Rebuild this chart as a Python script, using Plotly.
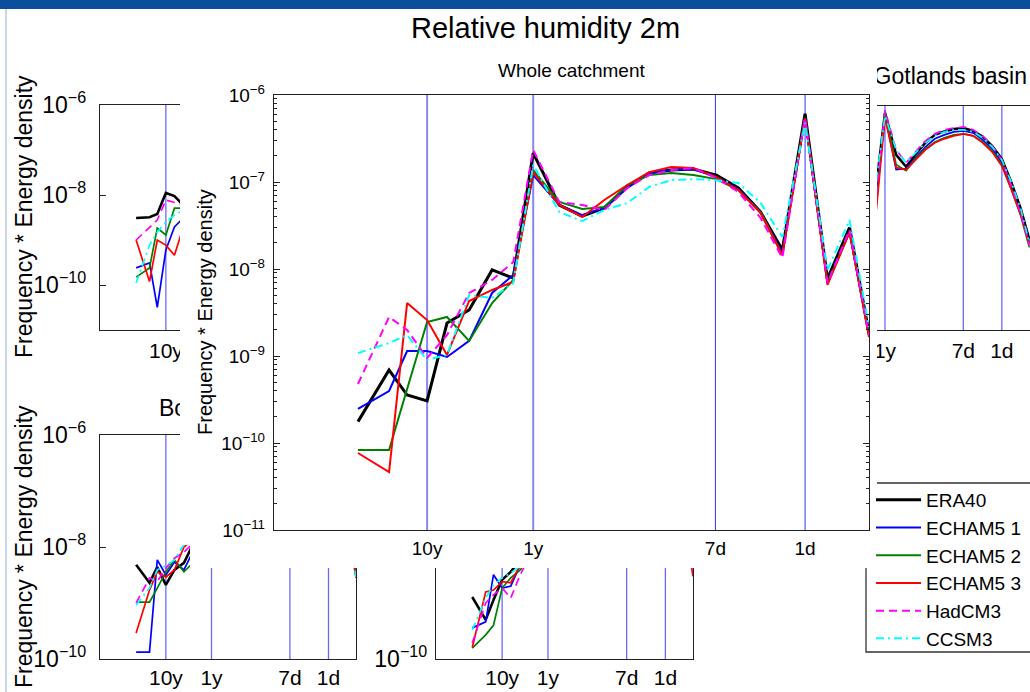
import math
import plotly.graph_objects as go

W, H = 1030, 692
FONT = "Liberation Sans, Arial, Helvetica, sans-serif"

# ---------------------------------------------------------------- data
# frequency bins (cycles per year)
freq = [0.0223, 0.0438, 0.0648, 0.1, 0.154, 0.249, 0.41, 0.648, 1.0, 1.76, 2.9, 4.68,
        7.71, 12.4, 20.0, 32.3, 53.3, 85.9, 139.0, 223.0, 365.0, 594.0, 958.0, 1461.0]

tick_freq = [0.1, 1.0, 365.25 / 7.0, 365.25]
tick_text = ["10y", "1y", "7d", "1d"]

series_names = ["ERA40", "ECHAM5 1", "ECHAM5 2", "ECHAM5 3", "HadCM3", "CCSM3"]

# Whole catchment (main panel)
era40_whole = [1.76e-10, 6.9e-10, 3.56e-10, 3.04e-10, 2.39e-9, 3.38e-9, 9.75e-9, 7.88e-9,
               2.15e-7, 5.44e-8, 4.06e-8, 5.03e-8, 8.77e-8, 1.27e-7, 1.37e-7, 1.41e-7,
               1.20e-7, 8.53e-8, 4.52e-8, 1.65e-8, 6.1e-7, 7.7e-9, 3.0e-8, 1.84e-9]
echam1_whole = [2.46e-10, 3.96e-10, 1.14e-9, 1.14e-9, 9.75e-10, 1.49e-9, 5.3e-9, 8.53e-9,
                1.2e-7, 5.44e-8, 4.17e-8, 5.03e-8, 8.53e-8, 1.27e-7, 1.37e-7, 1.41e-7,
                1.14e-7, 8.31e-8, 4.52e-8, 1.53e-8, 5.44e-7, 6.9e-9, 2.66e-8, 1.74e-9]
echam2_whole = [8.31e-11, 8.31e-11, 4.18e-10, 2.46e-9, 2.81e-9, 1.49e-9, 4.06e-9, 7.48e-9,
                1.37e-7, 5.89e-8, 4.9e-8, 5.16e-8, 9.24e-8, 1.2e-7, 1.27e-7, 1.2e-7,
                1.08e-7, 8.09e-8, 4.52e-8, 1.45e-8, 5.44e-7, 6.9e-9, 2.66e-8, 1.74e-9]
echam3_whole = [7.67e-11, 4.64e-11, 4.06e-9, 2.59e-9, 1.03e-9, 4.29e-9, 5.74e-9, 7.1e-9,
                1.3e-7, 5.44e-8, 3.96e-8, 6.21e-8, 9.24e-8, 1.3e-7, 1.49e-7, 1.45e-7,
                1.14e-7, 8.09e-8, 4.4e-8, 1.45e-8, 5.44e-7, 6.55e-9, 2.66e-8, 1.65e-9]
hadcm3_whole = [4.77e-10, 2.81e-9, 1.99e-9, 9.49e-10, 1.74e-9, 5.3e-9, 7.48e-9, 1.2e-8,
                2.33e-7, 5.89e-8, 5.44e-8, 4.77e-8, 8.53e-8, 1.2e-7, 1.37e-7, 1.45e-7,
                1.11e-7, 7.67e-8, 3.86e-8, 1.34e-8, 5.44e-7, 6.9e-9, 2.81e-8, 1.74e-9]
ccsm3_whole = [1.08e-9, 1.41e-9, 1.74e-9, 9.0e-10, 1.03e-9, 5.03e-9, 4.64e-9, 6.9e-9,
               1.57e-7, 4.52e-8, 3.56e-8, 4.77e-8, 5.74e-8, 8.77e-8, 1.05e-7, 1.08e-7,
               1.05e-7, 9.75e-8, 5.74e-8, 2.33e-8, 4.77e-7, 9.75e-9, 3.66e-8, 2.15e-9]

# top-left panel (only the low-frequency part is visible)
freq_tl = freq[0:6]
era40_tl = [3.08e-9, 3.2e-9, 3.78e-9, 1.11e-8, 9.5e-9, 5.7e-9]
echam1_tl = [2.4e-10, 3.1e-10, 3.2e-11, 6.0e-10, 1.95e-9, 3.2e-9]
echam2_tl = [1.5e-10, 2.4e-10, 1.85e-9, 1.29e-9, 5.1e-9, 5.1e-9]
echam3_tl = [1.0e-9, 1.19e-10, 1.0e-9, 7.7e-10, 4.6e-10, 2.15e-9]
hadcm3_tl = [1.0e-9, 1.85e-9, 2.78e-9, 7.7e-9, 6.9e-9, 6.0e-9]
ccsm3_tl = [1.11e-10, 7.7e-10, 1.5e-9, 2.5e-9, 3.6e-9, 4.6e-9]

# Gotlands basin (top-right panel)
freq_got = freq[7:]
era40_got = [1.75e-8, 7.0e-7, 8.1e-8, 4.4e-8, 8.3e-8, 1.51e-7, 2.27e-7, 2.71e-7, 3.08e-7,
             3.24e-7, 2.78e-7, 2.05e-7, 1.29e-7, 6.6e-8, 1.95e-8, 4.9e-9, 1.05e-9]
echam1_got = [8.1e-9, 6.3e-7, 3.8e-8, 4.0e-8, 7.0e-8, 1.23e-7, 1.85e-7, 2.27e-7, 2.64e-7,
              2.78e-7, 2.51e-7, 1.76e-7, 1.11e-7, 5.4e-8, 1.5e-8, 4.0e-9, 9.0e-10]
echam2_got = [6.3e-9, 7.4e-7, 4.9e-8, 3.6e-8, 6.6e-8, 1.11e-7, 1.58e-7, 1.95e-7, 2.27e-7,
              2.39e-7, 2.15e-7, 1.58e-7, 1.0e-7, 4.9e-8, 1.36e-8, 3.4e-9, 7.0e-10]
echam3_got = [4.9e-9, 5.4e-7, 4.2e-8, 3.8e-8, 6.3e-8, 1.05e-7, 1.51e-7, 1.85e-7, 2.15e-7,
              2.39e-7, 2.15e-7, 1.51e-7, 9.5e-8, 4.6e-8, 1.36e-8, 3.6e-9, 8.1e-10]
hadcm3_got = [1.05e-8, 8.1e-7, 1.05e-7, 5.4e-8, 9.5e-8, 1.67e-7, 2.39e-7, 2.93e-7, 3.24e-7,
              3.41e-7, 2.93e-7, 2.15e-7, 1.29e-7, 6.3e-8, 1.67e-8, 3.8e-9, 7.7e-10]
ccsm3_got = [2.27e-8, 6.0e-7, 1.05e-7, 5.4e-8, 9.0e-8, 1.51e-7, 2.15e-7, 2.64e-7, 2.93e-7,
             2.93e-7, 2.64e-7, 1.95e-7, 1.23e-7, 6.3e-8, 1.95e-8, 4.9e-9, 9.0e-10]

# bottom-left panel: visible low-frequency part and the last two bins
era40_bl = [4.8e-9, 2.3e-9, 4.4e-9, 2.1e-9, 3.9e-9, 5.2e-9, 1.2e-8]
echam1_bl = [1.33e-10, 1.33e-10, 5.9e-9, 3.16e-9, 5.4e-9, 3.9e-9, 9.0e-9]
echam2_bl = [1.04e-9, 1.04e-9, 1.85e-9, 3.6e-9, 5.9e-9, 3.6e-9, 5.4e-9]
echam3_bl = [2.9e-10, 1.7e-9, 3.6e-9, 2.9e-9, 3.9e-9, 1.0e-8, 1.4e-8]
hadcm3_bl = [1.0e-9, 2.8e-9, 2.4e-9, 4.2e-9, 6.3e-9, 8.1e-9, 1.2e-8]
ccsm3_bl = [9.2e-10, 1.85e-9, 3.9e-9, 4.6e-9, 5.9e-9, 1.1e-8, 1.3e-8]
era40_bl_tail = [3.0e-8, 3.4e-9]
echam1_bl_tail = [2.7e-8, 3.6e-9]
echam2_bl_tail = [2.7e-8, 3.6e-9]
echam3_bl_tail = [2.6e-8, 2.8e-9]
hadcm3_bl_tail = [2.8e-8, 3.0e-9]
ccsm3_bl_tail = [3.4e-8, 2.9e-9]

# bottom-middle panel
era40_bm = [1.28e-9, 5.0e-10, 1.13e-9, 2.6e-9, 3.6e-9, 5.9e-9, 8.9e-9]
echam1_bm = [3.6e-10, 4.6e-10, 3.2e-9, 1.85e-9, 2.0e-9, 4.8e-9, 8.1e-9]
echam2_bm = [1.57e-10, 2.7e-10, 4.0e-10, 1.85e-9, 2.8e-9, 3.9e-9, 7.2e-9]
echam3_bm = [1.6e-10, 1.57e-9, 1.7e-9, 2.4e-9, 2.3e-9, 4.8e-9, 8.1e-9]
hadcm3_bm = [1.93e-10, 1.0e-9, 1.4e-9, 1.85e-9, 1.23e-9, 3.2e-9, 7.2e-9]
ccsm3_bm = [3.3e-10, 1.23e-9, 2.1e-9, 2.8e-9, 3.4e-9, 4.6e-9, 8.1e-9]
era40_bm_tail = [3.0e-8, 4.2e-9]
echam1_bm_tail = [3.0e-8, 4.2e-9]
echam2_bm_tail = [3.0e-8, 4.2e-9]
echam3_bm_tail = [2.6e-8, 3.0e-9]
hadcm3_bm_tail = [2.8e-8, 3.3e-9]
ccsm3_bm_tail = [3.0e-8, 4.2e-9]

# ---------------------------------------------------------------- styles
styles = {
    "ERA40": dict(color="#000000", dash="solid", w=3.0),
    "ECHAM5 1": dict(color="#0000ff", dash="solid", w=2.0),
    "ECHAM5 2": dict(color="#008000", dash="solid", w=2.0),
    "ECHAM5 3": dict(color="#ff0000", dash="solid", w=2.0),
    "HadCM3": dict(color="#ff00ff", dash="8px,5px", w=2.0),
    "CCSM3": dict(color="#00ffff", dash="8px,4px,2px,4px", w=2.0),
}


def gapped(low, tail):
    n_mid = len(freq) - len(low) - len(tail)
    return low + [None] * n_mid + tail


def dom_x(a, b):
    return [a / W, b / W]


def dom_y(top, bottom):
    return [1 - bottom / H, 1 - top / H]


X_RANGE = [-2.443, 3.165]
X_RANGE_GOT = [-0.175, 3.18]
LINE = "#222222"
REF_LIGHT = "rgb(135,135,250)"
REF_DARK = "rgb(50,50,255)"


def sup(v):
    e = int(round(math.log10(v)))
    return "10<sup>\u2212%d</sup>" % (-e)


def ax_id(n, letter):
    return letter if n == 1 else "%s%d" % (letter, n)


fig = go.Figure()


def add_ref_lines(n, yr, groups):
    # vertical period markers (10y, 1y, 7d, 1d) spanning the panel's full height
    for idxs, color, width in groups:
        xs, ys = [], []
        for i in idxs:
            xs += [tick_freq[i], tick_freq[i], None]
            ys += [10.0 ** yr[0], 10.0 ** yr[1], None]
        fig.add_trace(go.Scatter(x=xs, y=ys, mode="lines",
                                 line=dict(color=color, width=width),
                                 xaxis=ax_id(n, "x"), yaxis=ax_id(n, "y"),
                                 showlegend=False, hoverinfo="skip"))


def add_panel(n, xs, ydata, scale=1.0, legend=False):
    for name, ys in zip(series_names, ydata):
        st = styles[name]
        fig.add_trace(go.Scatter(
            x=xs, y=ys, mode="lines", name=name,
            line=dict(color=st["color"], dash=st["dash"], width=st["w"] * scale),
            xaxis=ax_id(n, "x"), yaxis=ax_id(n, "y"),
            showlegend=legend, hoverinfo="skip"))


def add_label_holder(n, text, xpos, position, size):
    # a text placed on an invisible helper subplot, so the cover sheet can hide part of it
    fig.add_trace(go.Scatter(
        x=[xpos], y=[0.5], mode="text", text=[text], textposition=position,
        cliponaxis=False, textfont=dict(size=size, family=FONT, color="black"),
        xaxis=ax_id(n, "x"), yaxis=ax_id(n, "y"), showlegend=False, hoverinfo="skip"))


SMALL_REF = [([0, 1, 2, 3], "rgb(105,105,255)", 1.3)]

# 1 top-left
add_ref_lines(1, [-11, -6], SMALL_REF)
add_panel(1, freq_tl, [era40_tl, echam1_tl, echam2_tl, echam3_tl, hadcm3_tl, ccsm3_tl], 0.85)
# 2 Gotlands basin
add_ref_lines(2, [-11, -6], SMALL_REF)
add_panel(2, freq_got, [era40_got, echam1_got, echam2_got, echam3_got, hadcm3_got, ccsm3_got], 0.85)
# 3 bottom-left
add_ref_lines(3, [-10, -6], SMALL_REF)
add_panel(3, freq, [gapped(era40_bl, era40_bl_tail), gapped(echam1_bl, echam1_bl_tail),
                    gapped(echam2_bl, echam2_bl_tail), gapped(echam3_bl, echam3_bl_tail),
                    gapped(hadcm3_bl, hadcm3_bl_tail), gapped(ccsm3_bl, ccsm3_bl_tail)], 0.85)
# 4 bottom-middle
add_ref_lines(4, [-10, -6], SMALL_REF)
add_panel(4, freq, [gapped(era40_bm, era40_bm_tail), gapped(echam1_bm, echam1_bm_tail),
                    gapped(echam2_bm, echam2_bm_tail), gapped(echam3_bm, echam3_bm_tail),
                    gapped(hadcm3_bm, hadcm3_bm_tail), gapped(ccsm3_bm, ccsm3_bm_tail)], 0.85)
# 5, 6 panel titles of the partly hidden panels
GOT_T = (780, 1030)
add_label_holder(5, "Gotlands basin", (1027 - GOT_T[0]) / (GOT_T[1] - GOT_T[0]), "middle left", 23)
add_label_holder(6, "Bothnian Sea", 0.5, "middle center", 23)
# 7, 8 white cover (the main figure sheet lying over the small panels)
for n in (7, 8):
    fig.add_trace(go.Scatter(x=[None], y=[None], mode="lines", xaxis=ax_id(n, "x"),
                             yaxis=ax_id(n, "y"), showlegend=False, hoverinfo="skip"))
# 9 main panel
add_ref_lines(9, [-11, -6], [([0, 1], REF_LIGHT, 2.0), ([2, 3], REF_DARK, 1.0)])
add_panel(9, freq, [era40_whole, echam1_whole, echam2_whole, echam3_whole,
                    hadcm3_whole, ccsm3_whole], 1.0, legend=True)


def xaxis_cfg(dom, rng, anchor, size, standoff, labels=None):
    return dict(domain=dom, range=rng, type="log", anchor=anchor,
                tickmode="array", tickvals=tick_freq,
                ticktext=labels if labels is not None else tick_text,
                ticks="", showline=True, linecolor=LINE, linewidth=1.2, mirror=True,
                showgrid=False, zeroline=False, automargin=False,
                tickfont=dict(size=size, family=FONT, color="black"),
                ticklabelstandoff=standoff, fixedrange=True)


def yaxis_cfg(dom, rng, anchor, tickvals, size, standoff, mirror="ticks", minor=None,
              shown=None):
    texts = [sup(v) if (shown is None or v in shown) else "" for v in tickvals]
    cfg = dict(domain=dom, range=rng, type="log", anchor=anchor,
               tickmode="array", tickvals=tickvals, ticktext=texts,
               ticks="inside", ticklen=6, tickcolor=LINE, showline=True, linecolor=LINE,
               linewidth=1.2, mirror=mirror, showgrid=False, zeroline=False,
               automargin=False,
               tickfont=dict(size=size, family=FONT, color="black"),
               ticklabelstandoff=standoff, fixedrange=True)
    if minor is not None:
        cfg["minor"] = minor
    return cfg


def hidden_axes(n, xdom, ydom):
    return {
        ("xaxis" if n == 1 else "xaxis%d" % n): dict(
            domain=xdom, range=[0, 1], visible=False, anchor=ax_id(n, "y"),
            automargin=False, fixedrange=True),
        ("yaxis" if n == 1 else "yaxis%d" % n): dict(
            domain=ydom, range=[0, 1], visible=False, anchor=ax_id(n, "x"),
            automargin=False, fixedrange=True),
    }


small_ticks = [1e-10, 1e-8, 1e-6]
main_ticks = [1e-11, 1e-10, 1e-9, 1e-8, 1e-7, 1e-6]
main_minor = [m * 10.0 ** e for e in range(-11, -6) for m in range(2, 10)]

layout = dict(
    template="none",
    width=W, height=H, autosize=False,
    margin=dict(l=0, r=0, t=0, b=0, pad=0),
    paper_bgcolor="white", plot_bgcolor="white",
    font=dict(family=FONT, color="black"),
    showlegend=True,
    legend=dict(x=871 / W, y=1 - 481 / H, xanchor="left", yanchor="top",
                bgcolor="rgba(0,0,0,0)", borderwidth=0, itemwidth=45,
                font=dict(size=19, family=FONT, color="black"), tracegroupgap=0),
    # 1 top-left
    xaxis=xaxis_cfg(dom_x(100, 356), X_RANGE, "y", 21, 2, ["10y", "", "", ""]),
    yaxis=yaxis_cfg(dom_y(105, 330), [-11, -6], "x", small_ticks, 23, 8),
    # 2 Gotlands
    xaxis2=xaxis_cfg(dom_x(877, 1030), X_RANGE_GOT, "y2", 21, 2),
    yaxis2=dict(domain=dom_y(106, 330), range=[-11, -6], type="log", anchor="x2",
                showticklabels=False, ticks="", showline=True, linecolor=LINE,
                linewidth=1.2, mirror=False, showgrid=False, zeroline=False,
                automargin=False, fixedrange=True),
    # 3 bottom-left
    xaxis3=xaxis_cfg(dom_x(100, 356), X_RANGE, "y3", 21, 0),
    yaxis3=yaxis_cfg(dom_y(435, 659), [-10, -6], "x3", small_ticks, 23, 8),
    # 4 bottom-middle
    xaxis4=xaxis_cfg(dom_x(436, 693), X_RANGE, "y4", 21, 0),
    yaxis4=yaxis_cfg(dom_y(435, 659), [-10, -6], "x4", small_ticks, 23, 3, shown=[1e-10]),
    # 9 main
    xaxis9=xaxis_cfg(dom_x(274, 869), X_RANGE, "y9", 19, 1),
    yaxis9=yaxis_cfg(dom_y(95, 530), [-11, -6], "x9", main_ticks, 19, 4,
                     minor=dict(ticks="inside", ticklen=3, tickcolor=LINE,
                                tickvals=main_minor, showgrid=False)),
)
layout.update(hidden_axes(5, dom_x(GOT_T[0], GOT_T[1]), dom_y(66, 90)))
layout.update(hidden_axes(6, dom_x(100, 356), dom_y(398, 422)))
layout.update(hidden_axes(7, dom_x(180, 877), dom_y(55, 545)))
layout.update(hidden_axes(8, dom_x(190, 877), dom_y(544, 568)))

shapes = [
    # top banner
    dict(type="rect", xref="paper", yref="paper", x0=0, x1=1, y0=1 - 9 / H, y1=1,
         fillcolor="#0b4f9c", line=dict(width=0), layer="below"),
    # left page edge
    dict(type="line", xref="paper", yref="paper", x0=6 / W, x1=6 / W, y0=0, y1=1 - 9 / H,
         line=dict(color="#b4c8e4", width=1.5), layer="below"),
    # legend frame (partly under the cover sheet)
    dict(type="rect", xref="paper", yref="paper", x0=866 / W, x1=1.01,
         y0=1 - 652 / H, y1=1 - 483 / H, line=dict(color="#333333", width=1.3),
         fillcolor="rgba(0,0,0,0)", layer="below"),
]
layout["shapes"] = shapes


def ann(text, x, y, size, angle=0):
    return dict(text=text, x=x / W, y=1 - y / H, xref="paper", yref="paper",
                showarrow=False, textangle=angle, xanchor="center", yanchor="middle",
                font=dict(size=size, family=FONT, color="black"))


layout["annotations"] = [
    ann("Relative humidity 2m", 545, 28, 29),
    ann("Whole catchment", 572, 70, 19),
    ann("Frequency * Energy density", 205, 312, 20, -90),
    ann("Frequency * Energy density", 24, 217, 23, -90),
    ann("Frequency * Energy density", 24, 547, 23, -90),
]

fig.update_layout(**layout)
fig.write_html("out.html", config={"displayModeBar": False, "staticPlot": True},
               post_script="document.body.style.margin='0px';")
